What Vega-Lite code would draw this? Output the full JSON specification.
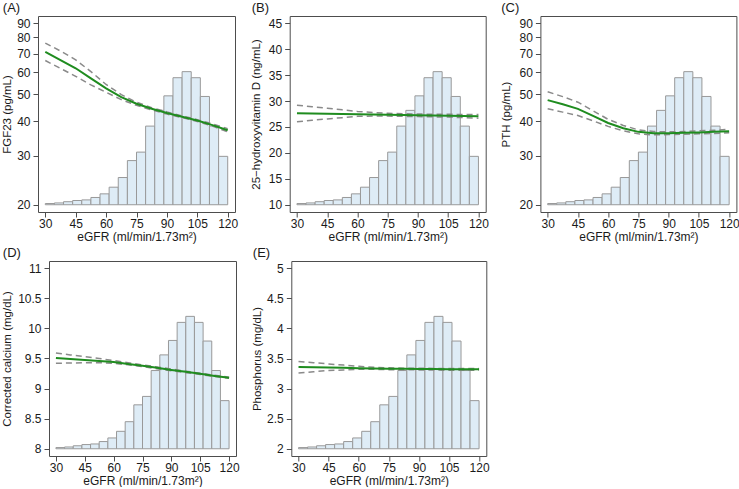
{
  "$schema": "https://vega.github.io/schema/vega-lite/v6.json",
  "padding": {"left": 1, "top": 1, "right": 0, "bottom": 0},
  "background": "white",
  "datasets": {
    "hist": [
      {"b0": 30, "b1": 34.5, "h": 0.02}, {"b0": 34.5, "b1": 39, "h": 0.03}, {"b0": 39, "b1": 43.5, "h": 0.05},
      {"b0": 43.5, "b1": 48, "h": 0.07}, {"b0": 48, "b1": 52.5, "h": 0.08}, {"b0": 52.5, "b1": 57, "h": 0.12},
      {"b0": 57, "b1": 61.5, "h": 0.18}, {"b0": 61.5, "b1": 66, "h": 0.29}, {"b0": 66, "b1": 70.5, "h": 0.45},
      {"b0": 70.5, "b1": 75, "h": 0.73}, {"b0": 75, "b1": 79.5, "h": 0.87}, {"b0": 79.5, "b1": 84, "h": 1.30},
      {"b0": 84, "b1": 88.5, "h": 1.56}, {"b0": 88.5, "b1": 93, "h": 1.80}, {"b0": 93, "b1": 97.5, "h": 2.10},
      {"b0": 97.5, "b1": 102, "h": 2.20}, {"b0": 102, "b1": 106.5, "h": 2.10}, {"b0": 106.5, "b1": 111, "h": 1.79},
      {"b0": 111, "b1": 115.5, "h": 1.30}, {"b0": 115.5, "b1": 120, "h": 0.80}
    ],
    "curves": [
      {"p": "A", "x": 30, "est": 71.0, "hi": 76.4, "lo": 66.1},
      {"p": "A", "x": 37.5, "est": 66.3, "hi": 71.5, "lo": 61.9},
      {"p": "A", "x": 45, "est": 62.0, "hi": 66.5, "lo": 58.0},
      {"p": "A", "x": 52.5, "est": 57.0, "hi": 60.3, "lo": 54.0},
      {"p": "A", "x": 60, "est": 52.5, "hi": 54.2, "lo": 50.8},
      {"p": "A", "x": 67.5, "est": 48.8, "hi": 49.8, "lo": 47.8},
      {"p": "A", "x": 75, "est": 46.2, "hi": 46.8, "lo": 45.6},
      {"p": "A", "x": 82.5, "est": 44.3, "hi": 44.7, "lo": 43.9},
      {"p": "A", "x": 90, "est": 42.8, "hi": 43.2, "lo": 42.4},
      {"p": "A", "x": 97.5, "est": 41.5, "hi": 41.8, "lo": 41.2},
      {"p": "A", "x": 105, "est": 40.2, "hi": 40.5, "lo": 39.9},
      {"p": "A", "x": 112.5, "est": 38.7, "hi": 39.1, "lo": 38.4},
      {"p": "A", "x": 120, "est": 37.1, "hi": 37.6, "lo": 36.6},
      {"p": "B", "x": 30, "est": 27.65, "hi": 29.2, "lo": 26.0},
      {"p": "B", "x": 37.5, "est": 27.6, "hi": 28.9, "lo": 26.3},
      {"p": "B", "x": 45, "est": 27.55, "hi": 28.6, "lo": 26.55},
      {"p": "B", "x": 52.5, "est": 27.5, "hi": 28.3, "lo": 26.8},
      {"p": "B", "x": 60, "est": 27.45, "hi": 28.0, "lo": 27.05},
      {"p": "B", "x": 67.5, "est": 27.4, "hi": 27.8, "lo": 27.1},
      {"p": "B", "x": 75, "est": 27.35, "hi": 27.65, "lo": 27.1},
      {"p": "B", "x": 82.5, "est": 27.3, "hi": 27.55, "lo": 27.05},
      {"p": "B", "x": 90, "est": 27.25, "hi": 27.5, "lo": 27.0},
      {"p": "B", "x": 97.5, "est": 27.2, "hi": 27.45, "lo": 26.95},
      {"p": "B", "x": 105, "est": 27.15, "hi": 27.45, "lo": 26.9},
      {"p": "B", "x": 112.5, "est": 27.1, "hi": 27.4, "lo": 26.8},
      {"p": "B", "x": 120, "est": 27.05, "hi": 27.4, "lo": 26.7},
      {"p": "C", "x": 30, "est": 47.6, "hi": 51.0, "lo": 44.3},
      {"p": "C", "x": 37.5, "est": 46.0, "hi": 49.0, "lo": 43.1},
      {"p": "C", "x": 45, "est": 44.3, "hi": 46.8, "lo": 41.9},
      {"p": "C", "x": 52.5, "est": 41.8, "hi": 43.6, "lo": 40.1},
      {"p": "C", "x": 60, "est": 39.4, "hi": 40.6, "lo": 38.3},
      {"p": "C", "x": 67.5, "est": 37.7, "hi": 38.6, "lo": 36.9},
      {"p": "C", "x": 75, "est": 36.6, "hi": 37.2, "lo": 36.0},
      {"p": "C", "x": 82.5, "est": 36.2, "hi": 36.7, "lo": 35.7},
      {"p": "C", "x": 90, "est": 36.2, "hi": 36.6, "lo": 35.8},
      {"p": "C", "x": 97.5, "est": 36.3, "hi": 36.7, "lo": 35.9},
      {"p": "C", "x": 105, "est": 36.4, "hi": 36.9, "lo": 36.0},
      {"p": "C", "x": 112.5, "est": 36.6, "hi": 37.1, "lo": 36.1},
      {"p": "C", "x": 120, "est": 36.8, "hi": 37.4, "lo": 36.3},
      {"p": "D", "x": 30, "est": 9.51, "hi": 9.59, "lo": 9.42},
      {"p": "D", "x": 37.5, "est": 9.49, "hi": 9.56, "lo": 9.425},
      {"p": "D", "x": 45, "est": 9.475, "hi": 9.53, "lo": 9.43},
      {"p": "D", "x": 52.5, "est": 9.46, "hi": 9.50, "lo": 9.43},
      {"p": "D", "x": 60, "est": 9.44, "hi": 9.465, "lo": 9.42},
      {"p": "D", "x": 67.5, "est": 9.41, "hi": 9.43, "lo": 9.395},
      {"p": "D", "x": 75, "est": 9.38, "hi": 9.395, "lo": 9.365},
      {"p": "D", "x": 82.5, "est": 9.345, "hi": 9.36, "lo": 9.33},
      {"p": "D", "x": 90, "est": 9.31, "hi": 9.325, "lo": 9.295},
      {"p": "D", "x": 97.5, "est": 9.28, "hi": 9.29, "lo": 9.265},
      {"p": "D", "x": 105, "est": 9.245, "hi": 9.255, "lo": 9.235},
      {"p": "D", "x": 112.5, "est": 9.21, "hi": 9.22, "lo": 9.20},
      {"p": "D", "x": 120, "est": 9.18, "hi": 9.19, "lo": 9.17},
      {"p": "E", "x": 30, "est": 3.36, "hi": 3.45, "lo": 3.26},
      {"p": "E", "x": 37.5, "est": 3.355, "hi": 3.43, "lo": 3.28},
      {"p": "E", "x": 45, "est": 3.35, "hi": 3.41, "lo": 3.30},
      {"p": "E", "x": 52.5, "est": 3.345, "hi": 3.39, "lo": 3.31},
      {"p": "E", "x": 60, "est": 3.34, "hi": 3.37, "lo": 3.32},
      {"p": "E", "x": 67.5, "est": 3.335, "hi": 3.355, "lo": 3.32},
      {"p": "E", "x": 75, "est": 3.33, "hi": 3.345, "lo": 3.315},
      {"p": "E", "x": 82.5, "est": 3.33, "hi": 3.34, "lo": 3.315},
      {"p": "E", "x": 90, "est": 3.325, "hi": 3.34, "lo": 3.31},
      {"p": "E", "x": 97.5, "est": 3.325, "hi": 3.335, "lo": 3.31},
      {"p": "E", "x": 105, "est": 3.32, "hi": 3.335, "lo": 3.305},
      {"p": "E", "x": 112.5, "est": 3.32, "hi": 3.335, "lo": 3.305},
      {"p": "E", "x": 120, "est": 3.32, "hi": 3.335, "lo": 3.305}
    ]
  },
  "spacing": 3,
  "vconcat": [
    {
      "hconcat": [
        {
          "width": 197, "height": 196,
          "title": {"text": "(A)"},
          "layer": [
            {"data": {"name": "hist"}, "mark": {"type": "bar", "fill": "#deecf6", "stroke": "#999999", "strokeWidth": 1},
             "encoding": {
               "x": {"field": "b0", "type": "quantitative", "scale": {"domain": [26.4, 123.6], "nice": false, "zero": false}, "axis": {"values": [30, 45, 60, 75, 90, 105, 120], "title": "eGFR (ml/min/1.73m²)"}},
               "x2": {"field": "b1"},
               "y": {"field": "h", "type": "quantitative", "scale": {"domain": [-0.12, 3.12], "nice": false, "zero": false}, "axis": null},
               "y2": {"datum": 0}}},
            {"mark": {"type": "rule", "color": "#7f7f7f", "strokeWidth": 1},
             "encoding": {"x": {"datum": 60, "type": "quantitative", "scale": {"domain": [26.4, 123.6], "nice": false, "zero": false}, "axis": {"values": [30, 45, 60, 75, 90, 105, 120], "title": "eGFR (ml/min/1.73m²)"}}}},
            {"data": {"name": "curves"}, "transform": [{"filter": "datum.p === 'A'"}],
             "layer": [
               {"transform": [{"fold": ["hi", "lo"], "as": ["k", "val"]}],
                "mark": {"type": "line", "color": "#8a8a8a", "strokeDash": [6, 4], "strokeWidth": 1.5},
                "encoding": {
                  "x": {"field": "x", "type": "quantitative", "scale": {"domain": [26.4, 123.6], "nice": false, "zero": false}, "axis": {"values": [30, 45, 60, 75, 90, 105, 120], "title": "eGFR (ml/min/1.73m²)"}},
                  "y": {"field": "val", "type": "quantitative", "scale": {"type": "log", "domain": [18.84, 95.6], "nice": false},
                        "axis": {"values": [20, 30, 40, 50, 60, 70, 80, 90], "format": "d", "title": "FGF23 (pg/mL)", "minExtent": 25.2, "maxExtent": 25.2, "titlePadding": 0}},
                  "detail": {"field": "k"}}},
               {"mark": {"type": "line", "color": "#1f8c1f", "strokeWidth": 2},
                "encoding": {
                  "x": {"field": "x", "type": "quantitative", "scale": {"domain": [26.4, 123.6], "nice": false, "zero": false}, "axis": {"values": [30, 45, 60, 75, 90, 105, 120], "title": "eGFR (ml/min/1.73m²)"}},
                  "y": {"field": "est", "type": "quantitative", "scale": {"type": "log", "domain": [18.84, 95.6], "nice": false},
                        "axis": {"values": [20, 30, 40, 50, 60, 70, 80, 90], "format": "d", "title": "FGF23 (pg/mL)", "minExtent": 25.2, "maxExtent": 25.2, "titlePadding": 0}}}}
             ]}
          ],
          "resolve": {"scale": {"y": "independent"}}
        },
        {
          "width": 196, "height": 196,
          "title": {"text": "(B)"},
          "layer": [
            {"data": {"name": "hist"}, "mark": {"type": "bar", "fill": "#deecf6", "stroke": "#999999", "strokeWidth": 1},
             "encoding": {
               "x": {"field": "b0", "type": "quantitative", "scale": {"domain": [26.4, 123.6], "nice": false, "zero": false}, "axis": {"values": [30, 45, 60, 75, 90, 105, 120], "title": "eGFR (ml/min/1.73m²)"}},
               "x2": {"field": "b1"},
               "y": {"field": "h", "type": "quantitative", "scale": {"domain": [-0.12, 3.12], "nice": false, "zero": false}, "axis": null},
               "y2": {"datum": 0}}},
            {"mark": {"type": "rule", "color": "#7f7f7f", "strokeWidth": 1},
             "encoding": {"x": {"datum": 60, "type": "quantitative", "scale": {"domain": [26.4, 123.6], "nice": false, "zero": false}, "axis": {"values": [30, 45, 60, 75, 90, 105, 120], "title": "eGFR (ml/min/1.73m²)"}}}},
            {"data": {"name": "curves"}, "transform": [{"filter": "datum.p === 'B'"}],
             "layer": [
               {"transform": [{"fold": ["hi", "lo"], "as": ["k", "val"]}],
                "mark": {"type": "line", "color": "#8a8a8a", "strokeDash": [6, 4], "strokeWidth": 1.5},
                "encoding": {
                  "x": {"field": "x", "type": "quantitative", "scale": {"domain": [26.4, 123.6], "nice": false, "zero": false}, "axis": {"values": [30, 45, 60, 75, 90, 105, 120], "title": "eGFR (ml/min/1.73m²)"}},
                  "y": {"field": "val", "type": "quantitative", "scale": {"domain": [8.6, 46.4], "nice": false, "zero": false},
                        "axis": {"values": [10, 15, 20, 25, 30, 35, 40, 45], "format": "~g", "title": "25−hydroxyvitamin D (ng/mL)", "minExtent": 28, "maxExtent": 28, "titlePadding": 0}},
                  "detail": {"field": "k"}}},
               {"mark": {"type": "line", "color": "#1f8c1f", "strokeWidth": 2},
                "encoding": {
                  "x": {"field": "x", "type": "quantitative", "scale": {"domain": [26.4, 123.6], "nice": false, "zero": false}, "axis": {"values": [30, 45, 60, 75, 90, 105, 120], "title": "eGFR (ml/min/1.73m²)"}},
                  "y": {"field": "est", "type": "quantitative", "scale": {"domain": [8.6, 46.4], "nice": false, "zero": false},
                        "axis": {"values": [10, 15, 20, 25, 30, 35, 40, 45], "format": "~g", "title": "25−hydroxyvitamin D (ng/mL)", "minExtent": 28, "maxExtent": 28, "titlePadding": 0}}}}
             ]}
          ],
          "resolve": {"scale": {"y": "independent"}}
        },
        {
          "width": 196, "height": 196,
          "title": {"text": "(C)"},
          "layer": [
            {"data": {"name": "hist"}, "mark": {"type": "bar", "fill": "#deecf6", "stroke": "#999999", "strokeWidth": 1},
             "encoding": {
               "x": {"field": "b0", "type": "quantitative", "scale": {"domain": [26.4, 123.6], "nice": false, "zero": false}, "axis": {"values": [30, 45, 60, 75, 90, 105, 120], "title": "eGFR (ml/min/1.73m²)"}},
               "x2": {"field": "b1"},
               "y": {"field": "h", "type": "quantitative", "scale": {"domain": [-0.12, 3.12], "nice": false, "zero": false}, "axis": null},
               "y2": {"datum": 0}}},
            {"mark": {"type": "rule", "color": "#7f7f7f", "strokeWidth": 1},
             "encoding": {"x": {"datum": 60, "type": "quantitative", "scale": {"domain": [26.4, 123.6], "nice": false, "zero": false}, "axis": {"values": [30, 45, 60, 75, 90, 105, 120], "title": "eGFR (ml/min/1.73m²)"}}}},
            {"data": {"name": "curves"}, "transform": [{"filter": "datum.p === 'C'"}],
             "layer": [
               {"transform": [{"fold": ["hi", "lo"], "as": ["k", "val"]}],
                "mark": {"type": "line", "color": "#8a8a8a", "strokeDash": [6, 4], "strokeWidth": 1.5},
                "encoding": {
                  "x": {"field": "x", "type": "quantitative", "scale": {"domain": [26.4, 123.6], "nice": false, "zero": false}, "axis": {"values": [30, 45, 60, 75, 90, 105, 120], "title": "eGFR (ml/min/1.73m²)"}},
                  "y": {"field": "val", "type": "quantitative", "scale": {"type": "log", "domain": [18.84, 95.6], "nice": false},
                        "axis": {"values": [20, 30, 40, 50, 60, 70, 80, 90], "format": "d", "title": "PTH (pg/mL)", "minExtent": 29.2, "maxExtent": 29.2, "titlePadding": 0}},
                  "detail": {"field": "k"}}},
               {"mark": {"type": "line", "color": "#1f8c1f", "strokeWidth": 2},
                "encoding": {
                  "x": {"field": "x", "type": "quantitative", "scale": {"domain": [26.4, 123.6], "nice": false, "zero": false}, "axis": {"values": [30, 45, 60, 75, 90, 105, 120], "title": "eGFR (ml/min/1.73m²)"}},
                  "y": {"field": "est", "type": "quantitative", "scale": {"type": "log", "domain": [18.84, 95.6], "nice": false},
                        "axis": {"values": [20, 30, 40, 50, 60, 70, 80, 90], "format": "d", "title": "PTH (pg/mL)", "minExtent": 29.2, "maxExtent": 29.2, "titlePadding": 0}}}}
             ]}
          ],
          "resolve": {"scale": {"y": "independent"}}
        }
      ],
      "spacing": 54.7,
      "bounds": "flush"
    },
    {
      "hconcat": [
        {
          "width": 1, "height": 195,
          "view": {"stroke": null, "fill": null},
          "data": {"values": [{"s": 0}]},
          "mark": {"type": "point", "opacity": 0},
          "encoding": {}
        },
        {
          "hconcat": [
            {
              "width": 187, "height": 195,
              "title": {"text": "(D)"},
              "layer": [
                {"data": {"name": "hist"}, "mark": {"type": "bar", "fill": "#deecf6", "stroke": "#999999", "strokeWidth": 1},
                 "encoding": {
                   "x": {"field": "b0", "type": "quantitative", "scale": {"domain": [26.4, 123.6], "nice": false, "zero": false}, "axis": {"values": [30, 45, 60, 75, 90, 105, 120], "title": "eGFR (ml/min/1.73m²)"}},
                   "x2": {"field": "b1"},
                   "y": {"field": "h", "type": "quantitative", "scale": {"domain": [-0.12, 3.12], "nice": false, "zero": false}, "axis": null},
                   "y2": {"datum": 0}}},
                {"mark": {"type": "rule", "color": "#7f7f7f", "strokeWidth": 1},
                 "encoding": {"x": {"datum": 60, "type": "quantitative", "scale": {"domain": [26.4, 123.6], "nice": false, "zero": false}, "axis": {"values": [30, 45, 60, 75, 90, 105, 120], "title": "eGFR (ml/min/1.73m²)"}}}},
                {"data": {"name": "curves"}, "transform": [{"filter": "datum.p === 'D'"}],
                 "layer": [
                   {"transform": [{"fold": ["hi", "lo"], "as": ["k", "val"]}],
                    "mark": {"type": "line", "color": "#8a8a8a", "strokeDash": [6, 4], "strokeWidth": 1.5},
                    "encoding": {
                      "x": {"field": "x", "type": "quantitative", "scale": {"domain": [26.4, 123.6], "nice": false, "zero": false}, "axis": {"values": [30, 45, 60, 75, 90, 105, 120], "title": "eGFR (ml/min/1.73m²)"}},
                      "y": {"field": "val", "type": "quantitative", "scale": {"domain": [7.88, 11.12], "nice": false, "zero": false},
                            "axis": {"values": [8, 8.5, 9, 9.5, 10, 10.5, 11], "format": "~g", "title": "Corrected calcium (mg/dL)", "minExtent": 36.2, "maxExtent": 36.2, "titlePadding": 0}},
                      "detail": {"field": "k"}}},
                   {"mark": {"type": "line", "color": "#1f8c1f", "strokeWidth": 2},
                    "encoding": {
                      "x": {"field": "x", "type": "quantitative", "scale": {"domain": [26.4, 123.6], "nice": false, "zero": false}, "axis": {"values": [30, 45, 60, 75, 90, 105, 120], "title": "eGFR (ml/min/1.73m²)"}},
                      "y": {"field": "est", "type": "quantitative", "scale": {"domain": [7.88, 11.12], "nice": false, "zero": false},
                            "axis": {"values": [8, 8.5, 9, 9.5, 10, 10.5, 11], "format": "~g", "title": "Corrected calcium (mg/dL)", "minExtent": 36.2, "maxExtent": 36.2, "titlePadding": 0}}}}
                 ]}
              ],
              "resolve": {"scale": {"y": "independent"}}
            },
            {
              "width": 195, "height": 195,
              "title": {"text": "(E)"},
              "layer": [
                {"data": {"name": "hist"}, "mark": {"type": "bar", "fill": "#deecf6", "stroke": "#999999", "strokeWidth": 1},
                 "encoding": {
                   "x": {"field": "b0", "type": "quantitative", "scale": {"domain": [26.4, 123.6], "nice": false, "zero": false}, "axis": {"values": [30, 45, 60, 75, 90, 105, 120], "title": "eGFR (ml/min/1.73m²)"}},
                   "x2": {"field": "b1"},
                   "y": {"field": "h", "type": "quantitative", "scale": {"domain": [-0.12, 3.12], "nice": false, "zero": false}, "axis": null},
                   "y2": {"datum": 0}}},
                {"mark": {"type": "rule", "color": "#7f7f7f", "strokeWidth": 1},
                 "encoding": {"x": {"datum": 60, "type": "quantitative", "scale": {"domain": [26.4, 123.6], "nice": false, "zero": false}, "axis": {"values": [30, 45, 60, 75, 90, 105, 120], "title": "eGFR (ml/min/1.73m²)"}}}},
                {"data": {"name": "curves"}, "transform": [{"filter": "datum.p === 'E'"}],
                 "layer": [
                   {"transform": [{"fold": ["hi", "lo"], "as": ["k", "val"]}],
                    "mark": {"type": "line", "color": "#8a8a8a", "strokeDash": [6, 4], "strokeWidth": 1.5},
                    "encoding": {
                      "x": {"field": "x", "type": "quantitative", "scale": {"domain": [26.4, 123.6], "nice": false, "zero": false}, "axis": {"values": [30, 45, 60, 75, 90, 105, 120], "title": "eGFR (ml/min/1.73m²)"}},
                      "y": {"field": "val", "type": "quantitative", "scale": {"domain": [1.88, 5.12], "nice": false, "zero": false},
                            "axis": {"values": [2, 2.5, 3, 3.5, 4, 4.5, 5], "format": "~g", "title": "Phosphorus (mg/dL)", "minExtent": 28.5, "maxExtent": 28.5, "titlePadding": 0}},
                      "detail": {"field": "k"}}},
                   {"mark": {"type": "line", "color": "#1f8c1f", "strokeWidth": 2},
                    "encoding": {
                      "x": {"field": "x", "type": "quantitative", "scale": {"domain": [26.4, 123.6], "nice": false, "zero": false}, "axis": {"values": [30, 45, 60, 75, 90, 105, 120], "title": "eGFR (ml/min/1.73m²)"}},
                      "y": {"field": "est", "type": "quantitative", "scale": {"domain": [1.88, 5.12], "nice": false, "zero": false},
                            "axis": {"values": [2, 2.5, 3, 3.5, 4, 4.5, 5], "format": "~g", "title": "Phosphorus (mg/dL)", "minExtent": 28.5, "maxExtent": 28.5, "titlePadding": 0}}}}
                 ]}
              ],
              "resolve": {"scale": {"y": "independent"}}
            }
          ],
          "spacing": 55.3,
          "bounds": "flush"
        }
      ],
      "spacing": 10,
      "bounds": "flush"
    }
  ],
  "config": {
    "font": "Liberation Sans",
    "view": {"stroke": "#4d4d4d", "strokeWidth": 1},
    "axis": {"domain": false, "grid": false, "ticks": true, "tickColor": "#4d4d4d", "tickSize": 5, "labelFontSize": 12, "labelColor": "#1a1a1a", "titleFontSize": 12, "titleFontWeight": "normal", "titleColor": "#1a1a1a", "labelFont": "Liberation Sans", "titleFont": "Liberation Sans"},
    "axisX": {"labelPadding": 1, "titlePadding": 2.5, "labelFlush": false, "labelOverlap": false},
    "axisY": {"labelPadding": 3, "labelOverlap": false, "titleFontSize": 11.5},
    "title": {"anchor": "start", "fontSize": 13, "fontWeight": "normal", "offset": 1, "dx": 1, "font": "Liberation Sans", "color": "#1a1a1a"}
  }
}
